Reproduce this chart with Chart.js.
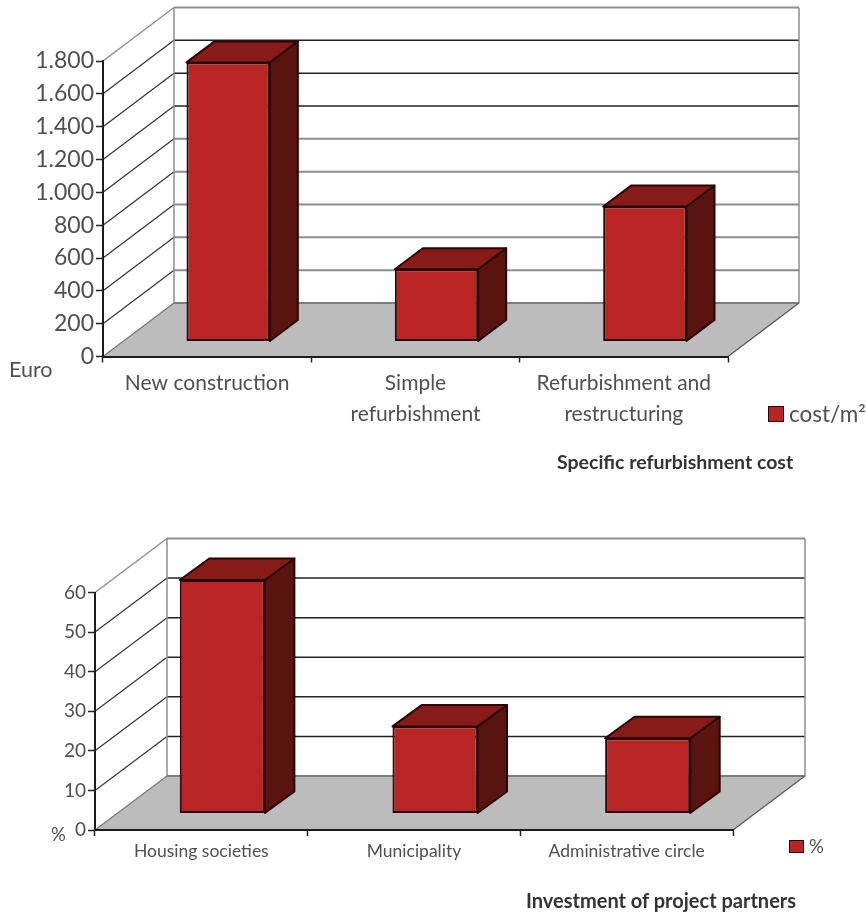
<!DOCTYPE html>
<html>
<head>
<meta charset="utf-8">
<title>Refurbishment cost and project partners</title>
<script src="https://cdn.jsdelivr.net/npm/chart.js@4"></script>
<style>
  html, body { margin: 0; padding: 0; background: #fff; }
  #page { position: relative; width: 866px; height: 914px; overflow: hidden; font-family: Lato, sans-serif; color: #505050; }
  canvas { position: absolute; left: 0; }
  #costChart { top: 0; }
  #partnerChart { top: 500px; }
  .note { position: absolute; white-space: nowrap; line-height: 1; }
  .title { font-weight: 700; color: #333; }
  .swatch { position: absolute; background: #b92424; border: 1.5px solid #2a0505; box-sizing: border-box; }
</style>
</head>
<body>
<div id="page">
  <canvas id="costChart" width="866" height="500"></canvas>
  <canvas id="partnerChart" width="866" height="414"></canvas>

  <div class="note" style="left:9px;top:359px;font-size:21.5px">Euro</div>
  <div class="swatch" style="left:768px;top:406px;width:16px;height:16px"></div>
  <div class="note" style="left:789px;top:403px;font-size:22.5px">cost/m²</div>
  <div class="note title" style="left:557px;top:452px;font-size:19.5px">Specific refurbishment cost</div>

  <div class="note" style="left:51px;top:825px;font-size:18.5px">%</div>
  <div class="swatch" style="left:789px;top:840px;width:15px;height:13px"></div>
  <div class="note" style="left:809px;top:837px;font-size:18.5px">%</div>
  <div class="note title" style="left:526px;top:890px;font-size:20px">Investment of project partners</div>
</div>

<script>
// Specific refurbishment cost, euro per square metre
var costCategories = ['New construction', ['Simple', 'refurbishment'], ['Refurbishment and', 'restructuring']];
var costValues = [1700, 440, 822];
var costTicks = ['0', '200', '400', '600', '800', '1.000', '1.200', '1.400', '1.600', '1.800'];

// Investment of project partners, percent
var partnerCategories = ['Housing societies', 'Municipality', 'Administrative circle'];
var partnerValues = [59, 22, 19];
var partnerTicks = ['0', '10', '20', '30', '40', '50', '60'];

var FRONT = '#b92424';
var TOP = '#861b18';
var SIDE = '#5a1410';
var EDGE = '#2a0505';

function line(ctx, x1, y1, x2, y2, color, width) {
    ctx.strokeStyle = color;
    ctx.lineWidth = width;
    ctx.beginPath();
    ctx.moveTo(x1, y1);
    ctx.lineTo(x2, y2);
    ctx.stroke();
}

function poly(ctx, pts, fill, stroke) {
    ctx.beginPath();
    ctx.moveTo(pts[0][0], pts[0][1]);
    for (var i = 1; i < pts.length; i++) ctx.lineTo(pts[i][0], pts[i][1]);
    ctx.closePath();
    ctx.fillStyle = fill;
    ctx.fill();
    if (stroke) {
        ctx.strokeStyle = stroke;
        ctx.lineWidth = 2;
        ctx.lineJoin = 'round';
        ctx.stroke();
    }
}

// Fake 3D box: floor, walls and gridlines behind, side and top faces on each bar.
// d = depth of the room, bar = depth of a bar, shift = how far a bar stands in from the front edge.
var box3d = {
    id: 'box3d',
    beforeDraw: function(chart, args, opts) {
        var ctx = chart.ctx, a = chart.chartArea, y = chart.scales.y, d = opts.d;
        ctx.save();
        poly(ctx, [[a.left, a.bottom], [a.right, a.bottom], [a.right + d.x, a.bottom - d.y], [a.left + d.x, a.bottom - d.y]], '#bcbcbc');

        y.ticks.forEach(function(t) {
            var py = y.getPixelForValue(t.value);
            if (t.value === y.min || t.value === y.max) return;
            var color = t.value >= opts.darkFrom ? '#222' : '#8c8c8c';
            var width = t.value >= opts.darkFrom ? 1.5 : 2;
            line(ctx, a.left, py, a.left + d.x, py - d.y, '#333', 1.2);
            line(ctx, a.left + d.x, py - d.y, a.right + d.x, py - d.y, color, width);
        });

        // room outline
        var wall = '#8f8f8f';
        line(ctx, a.left, a.top, a.left + d.x, a.top - d.y, wall, 1.5);
        line(ctx, a.left + d.x, a.top - d.y, a.right + d.x, a.top - d.y, wall, 2);
        line(ctx, a.left + d.x, a.top - d.y, a.left + d.x, a.bottom - d.y, wall, 1.5);
        line(ctx, a.right + d.x, a.top - d.y, a.right + d.x, a.bottom - d.y, wall, 1.5);
        line(ctx, a.left + d.x, a.bottom - d.y, a.right + d.x, a.bottom - d.y, '#7d7d7d', 2);
        line(ctx, a.left, a.bottom, a.left + d.x, a.bottom - d.y, '#777', 1.2);
        line(ctx, a.right, a.bottom, a.right + d.x, a.bottom - d.y, '#555', 1.2);
        ctx.restore();
    },
    beforeDatasetDraw: function(chart, args, opts) {
        var ctx = chart.ctx, b = opts.bar;
        ctx.save();
        ctx.translate(opts.shift.x, -opts.shift.y);
        args.meta.data.forEach(function(el) {
            var l = el.x - el.width / 2, r = el.x + el.width / 2;
            poly(ctx, [[r, el.y], [r + b.x, el.y - b.y], [r + b.x, el.base - b.y], [r, el.base]], SIDE, EDGE);
            poly(ctx, [[l, el.y], [l + b.x, el.y - b.y], [r + b.x, el.y - b.y], [r, el.y]], TOP, EDGE);
        });
    },
    afterDatasetDraw: function(chart) {
        chart.ctx.restore();
    }
};

function drawChart(id, o) {
    return new Chart(document.getElementById(id), {
        type: 'bar',
        data: {
            labels: o.categories,
            datasets: [{
                label: o.series,
                data: o.values,
                backgroundColor: FRONT,
                borderColor: EDGE,
                borderWidth: 2,
                borderSkipped: false,
                barPercentage: 1,
                categoryPercentage: 0.4,
                clip: false
            }]
        },
        plugins: [box3d],
        options: {
            responsive: false,
            animation: false,
            layout: { padding: o.padding },
            plugins: {
                legend: { display: false },
                title: { display: false },
                tooltip: { enabled: false },
                box3d: o.room
            },
            scales: {
                x: {
                    grid: { offset: true, drawOnChartArea: false, tickLength: 6, tickColor: '#222', tickWidth: 1.5 },
                    border: { color: '#1c1c1c', width: 2 },
                    ticks: {
                        color: '#505050',
                        padding: o.xPad,
                        maxRotation: 0,
                        autoSkip: false,
                        font: { family: 'Lato', size: o.xSize, lineHeight: o.xLine }
                    },
                    afterFit: function(scale) { scale.height = o.xHeight; }
                },
                y: {
                    min: 0,
                    max: o.max,
                    grid: { drawOnChartArea: false, tickLength: 7, tickColor: '#222', tickWidth: 1.5 },
                    border: { color: '#1c1c1c', width: 2 },
                    ticks: {
                        stepSize: o.step,
                        color: '#505050',
                        padding: 2,
                        font: { family: 'Lato', size: o.ySize },
                        callback: function(value) { return o.ticks[Math.round(value / o.step)]; }
                    },
                    afterFit: function(scale) { scale.width = o.yWidth; }
                }
            }
        }
    });
}

drawChart('costChart', {
    categories: costCategories,
    series: 'cost/m²',
    values: costValues,
    ticks: costTicks,
    max: 1800,
    step: 200,
    ySize: 23,
    xSize: 21,
    xLine: 1.48,
    xPad: 5,
    xHeight: 80,
    yWidth: 90,
    padding: { left: 13, right: 138, top: 61, bottom: 63.5 },
    room: { d: { x: 71, y: 53.5 }, bar: { x: 28, y: 21 }, shift: { x: 21, y: 15 }, darkFrom: 1200 }
});

drawChart('partnerChart', {
    categories: partnerCategories,
    series: '%',
    values: partnerValues,
    ticks: partnerTicks,
    max: 60,
    step: 10,
    ySize: 19,
    xSize: 17.5,
    xLine: 1.2,
    xPad: 5,
    xHeight: 50,
    yWidth: 80,
    padding: { left: 15, right: 133, top: 92.5, bottom: 34 },
    room: { d: { x: 72, y: 54 }, bar: { x: 29.5, y: 21.5 }, shift: { x: 21, y: 16.5 }, darkFrom: 0 }
});
</script>
</body>
</html>
